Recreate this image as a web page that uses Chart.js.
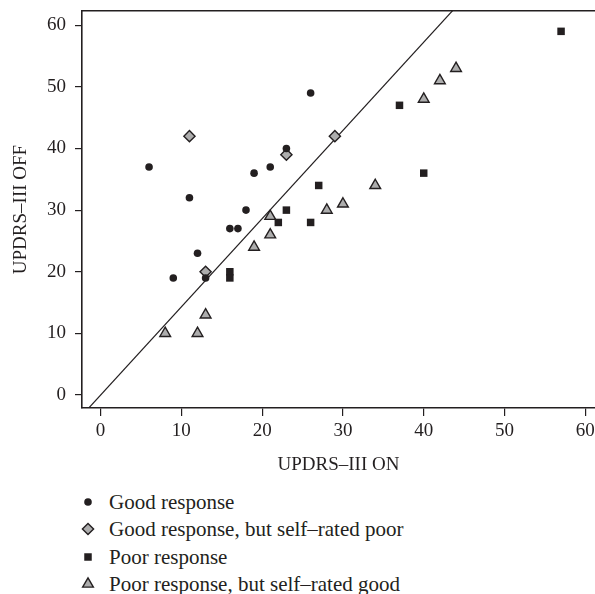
<!DOCTYPE html>
<html><head><meta charset="utf-8">
<script src="https://cdn.jsdelivr.net/npm/chart.js@4.4.1/dist/chart.umd.min.js"></script>
<style>
html,body{margin:0;padding:0;background:#fff;}
#wrap{position:relative;width:595px;height:594px;overflow:hidden;}
#c{position:absolute;left:0;top:0;}
.leg{position:absolute;left:0;width:595px;font-family:"Liberation Serif","Times New Roman",serif;font-size:21px;color:#231f20;height:28px;line-height:28px;white-space:nowrap}
.leg svg{position:absolute;left:80px;top:6px}
.leg span{position:absolute;left:109px;top:0}
</style></head>
<body><div id="wrap"><canvas id="c" width="595" height="476"></canvas><div id="legend"></div></div>
<script>
// ---- data ----
const seriesNames = ["Good response", "Good response, but self\u2013rated poor", "Poor response", "Poor response, but self\u2013rated good"];
const goodX = [6, 9, 11, 12, 13, 16, 17, 18, 19, 21, 23, 26];
const goodY = [37, 19, 32, 23, 19, 27, 27, 30, 36, 37, 40, 49];
const goodPoorX = [11, 13, 23, 29];
const goodPoorY = [42, 20, 39, 42];
const poorX = [16, 16, 22, 23, 26, 27, 37, 40, 57];
const poorY = [20, 19, 28, 30, 28, 34, 47, 36, 59];
const poorGoodX = [8, 12, 13, 19, 21, 21, 28, 30, 34, 40, 42, 44];
const poorGoodY = [10, 10, 13, 24, 26, 29, 30, 31, 34, 48, 51, 53];
const refLineX = [-3, 45];
const refLineY = [-4.3, 64.4];
const xTicks = [0, 10, 20, 30, 40, 50, 60];
const yTicks = [0, 10, 20, 30, 40, 50, 60];
const xTitle = "UPDRS\u2013III ON";
const yTitle = "UPDRS\u2013III OFF";

const ink = '#231f20';
const grey = '#adadad';
const FONT = '"Liberation Serif","Times New Roman",serif';
const pts = (xs, ys) => xs.map((x, i) => ({x: x, y: ys[i]}));

const styles = [
  {pointStyle: 'circle', pointRadius: 3.8, backgroundColor: ink, borderColor: ink, borderWidth: 0},
  {pointStyle: 'rectRot', pointRadius: 5.6, backgroundColor: grey, borderColor: ink, borderWidth: 1.4},
  {pointStyle: 'rect', pointRadius: 5.3, backgroundColor: ink, borderColor: ink, borderWidth: 0},
  {pointStyle: 'triangle', pointRadius: 6.2, backgroundColor: grey, borderColor: ink, borderWidth: 1.4}
];
const dataSets = [pts(goodX, goodY), pts(goodPoorX, goodPoorY), pts(poorX, poorY), pts(poorGoodX, poorGoodY)];

const datasets = dataSets.map((d, i) => Object.assign({
  type: 'scatter', label: seriesNames[i], data: d, order: i + 1,
  pointHoverRadius: styles[i].pointRadius
}, styles[i]));
datasets.push({
  type: 'line', label: 'ref', data: pts(refLineX, refLineY), order: 10,
  borderColor: ink, borderWidth: 1.2, pointRadius: 0, fill: false, tension: 0
});

const fixTicks = vals => axis => { axis.ticks = vals.map(v => ({value: v})); };

new Chart(document.getElementById('c'), {
  data: {datasets: datasets},
  options: {
    responsive: false, animation: false,
    layout: {autoPadding: false, padding: {top: 11, left: 0, right: 0, bottom: 0}},
    plugins: {legend: {display: false}, tooltip: {enabled: false}},
    scales: {
      x: {
        type: 'linear', position: 'bottom', min: -2.3, max: 61.2,
        afterBuildTicks: fixTicks(xTicks),
        afterFit: s => { s.height = 68; s.paddingLeft = 0; s.paddingRight = 0; },
        grid: {drawOnChartArea: false, drawTicks: true, tickLength: 8, color: ink, lineWidth: 1.2},
        border: {display: true, color: ink, width: 1.6},
        ticks: {color: ink, font: {family: FONT, size: 19}, padding: 4, maxRotation: 0, autoSkip: false},
        title: {display: true, text: xTitle, color: ink, font: {family: FONT, size: 19, lineHeight: 1.2}, padding: {top: 0, bottom: 0}}
      },
      xTop: {
        type: 'linear', position: 'top', min: -2.3, max: 61.2,
        afterFit: s => { s.height = 0; s.paddingLeft = 0; s.paddingRight = 0; },
        grid: {display: false}, ticks: {display: false},
        border: {display: true, color: ink, width: 1.6}
      },
      y: {
        type: 'linear', position: 'left', min: -2.1, max: 62.3,
        afterBuildTicks: fixTicks(yTicks),
        afterFit: s => { s.width = 82; s.paddingTop = 0; s.paddingBottom = 0; },
        grid: {drawOnChartArea: false, drawTicks: true, tickLength: 7, color: ink, lineWidth: 1.2},
        border: {display: true, color: ink, width: 1.6},
        ticks: {color: ink, font: {family: FONT, size: 19}, padding: 9},
        title: {display: true, text: yTitle, color: ink, font: {family: FONT, size: 19, lineHeight: 1.2}, padding: {top: 10, bottom: 0}}
      }
    }
  }
});

// ---- legend (HTML, real text) ----
function markerSvg(st) {
  const s = 16, c = 8, r = st.pointRadius;
  let shape;
  if (st.pointStyle === 'circle') shape = `<circle cx="${c}" cy="${c}" r="${r}" fill="${st.backgroundColor}"/>`;
  else if (st.pointStyle === 'rect') { const h = r * Math.SQRT1_2; shape = `<rect x="${c-h}" y="${c-h}" width="${2*h}" height="${2*h}" fill="${st.backgroundColor}"/>`; }
  else if (st.pointStyle === 'rectRot') shape = `<polygon points="${c-r},${c} ${c},${c-r} ${c+r},${c} ${c},${c+r}" fill="${st.backgroundColor}" stroke="${st.borderColor}" stroke-width="${st.borderWidth}"/>`;
  else { const a = r * Math.sqrt(3) / 2; shape = `<polygon points="${c},${c-r} ${c+a},${c+r/2} ${c-a},${c+r/2}" fill="${st.backgroundColor}" stroke="${st.borderColor}" stroke-width="${st.borderWidth}"/>`; }
  return `<svg width="${s}" height="${s}" viewBox="0 0 ${s} ${s}">${shape}</svg>`;
}
const legendRowsY = [488, 515, 543, 570];
const leg = document.getElementById('legend');
seriesNames.forEach((name, i) => {
  const d = document.createElement('div');
  d.className = 'leg';
  d.style.top = legendRowsY[i] + 'px';
  d.innerHTML = markerSvg(styles[i]) + '<span></span>';
  d.querySelector('span').textContent = name;
  leg.appendChild(d);
});
</script>
</body></html>
